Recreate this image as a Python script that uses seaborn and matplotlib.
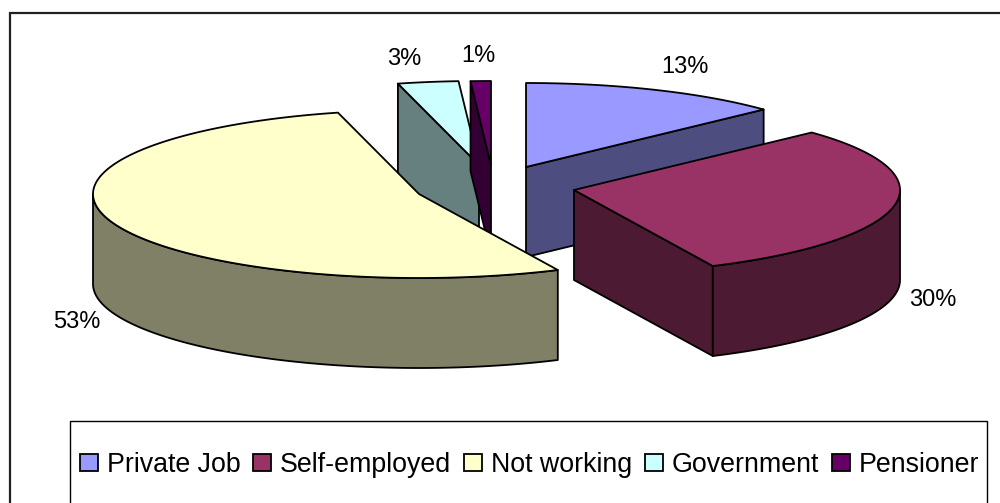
import numpy as np
import matplotlib
matplotlib.use("Agg")
import matplotlib.pyplot as plt
from matplotlib.patches import Patch, Rectangle
import seaborn as sns

# Employment shares, clockwise from 12 o'clock
categories = ["Private Job", "Self-employed", "Not working", "Government", "Pensioner"]
shares = [13, 30, 53, 3, 1]
top_colors = ["#9999FF", "#993366", "#FFFFCC", "#CCFFFF", "#660066"]
side_colors = ["#4D4D80", "#4D1A33", "#808066", "#668080", "#330033"]

# Exploded centre of each slice and where its percentage label sits
centres = [(526, 167), (574, 190), (419, 194), (479, 165), (491, 165)]
label_xy = [(685, 67), (933, 300), (77, 322), (404, 59), (478, 56)]
draw_order = [0, 3, 4, 1, 2]  # back to front

RX, RY, DEPTH = 326, 84, 90

sns.set_theme(style="white")
plt.rcParams["font.family"] = ["Liberation Sans", "DejaVu Sans"]

fig = plt.figure(figsize=(10, 5.03), dpi=100, facecolor="white")
ax = fig.add_axes([0, 0, 1, 1])
ax.set_xlim(0, 1000)
ax.set_ylim(503, 0)
ax.axis("off")

ax.add_patch(Rectangle((10, 13), 1100, 600, fc="white", ec="#222222", lw=1.6))


def rim(cx, cy, a0, a1):
    t = np.radians(np.linspace(a0, a1, 120))
    return cx + RX * np.sin(t), cy - RY * np.cos(t)


def polygon(xs, ys, color):
    ax.fill(xs, ys, facecolor=color, edgecolor="black", lw=1.3, joinstyle="round")


def cut_face(cx, cy, a, color):
    ex, ey = rim(cx, cy, a, a)
    ex, ey = ex[0], ey[0]
    polygon([cx, ex, ex, cx], [cy, ey, ey + DEPTH, cy + DEPTH], color)


edges = np.concatenate([[0], np.cumsum(shares)]) * 3.6
for i in draw_order:
    cx, cy = centres[i]
    a0, a1 = edges[i], edges[i + 1]
    # radial cut faces that turn toward the viewer
    if 180 < a0 < 360:
        cut_face(cx, cy, a0, side_colors[i])
    if 0 < a1 < 180:
        cut_face(cx, cy, a1, side_colors[i])
    # outer wall, only the stretch facing the viewer
    lo, hi = max(a0, 90), min(a1, 270)
    if hi > lo:
        x, y = rim(cx, cy, lo, hi)
        polygon(np.r_[x, x[::-1]], np.r_[y, y[::-1] + DEPTH], side_colors[i])
    # top surface
    x, y = rim(cx, cy, a0, a1)
    polygon(np.r_[cx, x], np.r_[cy, y], top_colors[i])

for share, (lx, ly) in zip(shares, label_xy):
    ax.text(lx, ly, f"{share}%", ha="center", va="center", fontsize=17, color="black")

ax.add_patch(Rectangle((69.5, 420.5), 917.5, 120, fc="white", ec="black", lw=1.0))
handles = [Patch(facecolor=c, edgecolor="black", lw=1.3, label=n)
           for c, n in zip(top_colors, categories)]
ax.legend(handles=handles, ncol=5, loc="center left", bbox_to_anchor=(80, 465),
          bbox_transform=ax.transData, frameon=False, fontsize=19.3, borderpad=0,
          borderaxespad=0, handlelength=0.66, handleheight=0.62, handletextpad=0.34,
          columnspacing=0.48, labelcolor="black")

fig.savefig("out.png", dpi=100)
